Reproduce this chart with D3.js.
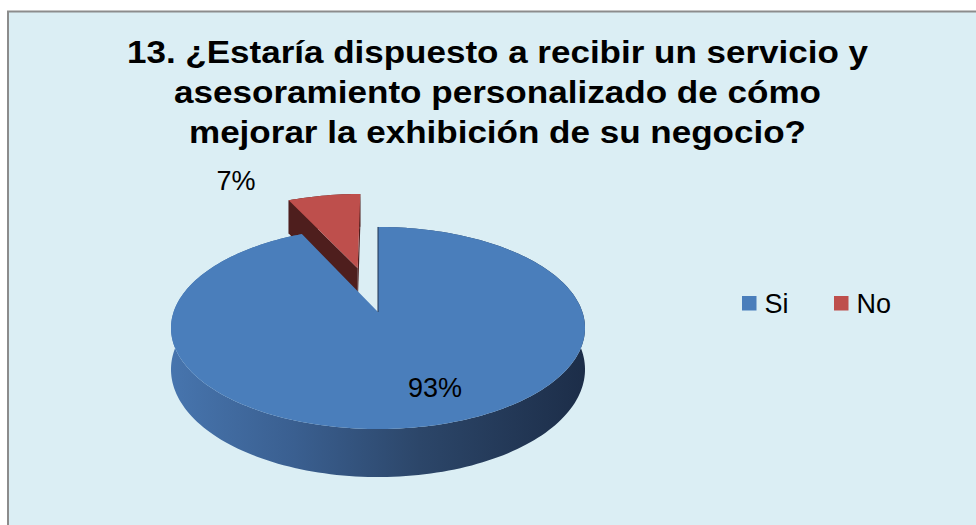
<!DOCTYPE html>
<html>
<head>
<meta charset="utf-8">
<script src="https://cdn.jsdelivr.net/npm/d3@7"></script>
<style>
  html, body { margin: 0; padding: 0; background: #ffffff; }
  svg { display: block; }
</style>
</head>
<body>
<svg id="chart" width="976" height="525"></svg>
<script>
// ---- data ----
const categories = ["Si", "No"];
const values = [93, 7];
const colors = ["#4A7EBB", "#BE4F4C"];
const titleLines = [
  "13. ¿Estaría dispuesto a recibir un servicio y",
  "asesoramiento personalizado de cómo",
  "mejorar la exhibición de su negocio?"
];
const explode = [0, 0.49];

// ---- layout ----
const svg = d3.select("#chart");
const W = 976, H = 525;
const FONT = "'Liberation Sans', Arial, sans-serif";

svg.append("rect").attr("x", 0).attr("y", 0).attr("width", W).attr("height", H).attr("fill", "#ffffff");
svg.append("rect").attr("x", 8).attr("y", 11.5).attr("width", 990).attr("height", 540)
  .attr("fill", "#DBEEF4").attr("stroke", "#8c8c8c").attr("stroke-width", 2);

// title
const titleWidths = [741, 647, 617];
const titleBase = [63, 103, 143];
svg.append("g").selectAll("text").data(titleLines).join("text")
  .attr("x", 497.5).attr("y", (d, i) => titleBase[i])
  .attr("text-anchor", "middle")
  .attr("font-family", FONT).attr("font-weight", "bold").attr("font-size", 32)
  .attr("textLength", (d, i) => titleWidths[i]).attr("lengthAdjust", "spacingAndGlyphs")
  .attr("fill", "#000").text(d => d);

// ---- 3D pie projection ----
const cx = 378, cy = 312, A = 204.4, B = 98.5, K = 0.1584, T = 40.4;
function proj(u, v, h) {
  const w = 1 - K * v;
  return [cx + A * u / w, cy + (B * v + h) / w];
}
function pt(theta, r, h, off) {
  return proj(r * Math.sin(theta) + off[0], -r * Math.cos(theta) + off[1], h);
}
const pie = d3.pie().sort(null).value(d => d)(values);
const line = d3.line();
const N = 240;
function arcPts(a0, a1, h, off) {
  const n = Math.max(4, Math.ceil(N * (a1 - a0) / (2 * Math.PI)));
  return d3.range(n + 1).map(i => pt(a0 + (a1 - a0) * i / n, 1, h, off));
}

const defs = svg.append("defs");
const grad = defs.append("linearGradient").attr("id", "sideBlue")
  .attr("gradientUnits", "userSpaceOnUse")
  .attr("x1", cx - A * 1.02).attr("x2", cx + A * 1.02).attr("y1", 0).attr("y2", 0);
[["0", "#4775AE"], ["0.3", "#3A5F90"], ["0.6", "#2C4669"], ["1", "#1C2D48"]]
  .forEach(s => grad.append("stop").attr("offset", s[0]).attr("stop-color", s[1]));

const gPie = svg.append("g");

function drawSlice(d, i) {
  const e = explode[i];
  const mid = (d.startAngle + d.endAngle) / 2;
  const off = [e * Math.sin(mid), -e * Math.cos(mid)];
  const a0 = d.startAngle, a1 = d.endAngle;
  const isSi = i === 0;
  const sideFill = isSi ? "url(#sideBlue)" : "#4E1E1D";
  // outer side
  const top = arcPts(a0, a1, 0, off);
  const bot = arcPts(a0, a1, T, off).reverse();
  gPie.append("path").attr("d", line(top.concat(bot)) + "Z").attr("fill", sideFill);
  if (!isSi) {
    // radial faces
    [a1, a0].forEach(a => {
      const c0 = proj(off[0], off[1], 0), c1 = proj(off[0], off[1], T);
      const r0 = pt(a, 1, 0, off), r1 = pt(a, 1, T, off);
      gPie.append("path").attr("d", line([c0, r0, r1, c1]) + "Z").attr("fill", "#4E1E1D");
    });
  }
  // top face
  const c = proj(off[0], off[1], 0);
  gPie.append("path").attr("d", line([c].concat(top)) + "Z").attr("fill", colors[i]);
  if (isSi) {
    // thin edge line at the gap (edge-on radial face)
    const r0 = pt(a0, 1, 0, off);
    gPie.append("path").attr("d", line([c, r0])).attr("stroke", "#1F3350").attr("stroke-width", 1).attr("fill", "none");
  }
}
// draw No first, then Si
drawSlice(pie[1], 1);
drawSlice(pie[0], 0);

// labels
const pct = d3.format(".0%");
const total = d3.sum(values);
const labelPos = [[435, 397], [236, 190]];
svg.append("g").selectAll("text").data(values).join("text")
  .attr("x", (d, i) => labelPos[i][0]).attr("y", (d, i) => labelPos[i][1])
  .attr("text-anchor", "middle").attr("font-family", FONT).attr("font-size", 27)
  .attr("fill", "#000").text(d => pct(d / total));

// legend
const legX = [742, 834];
const leg = svg.append("g").selectAll("g").data(categories).join("g")
  .attr("transform", (d, i) => `translate(${legX[i]},296)`);
leg.append("rect").attr("width", 14.5).attr("height", 14.5).attr("fill", (d, i) => colors[i]);
leg.append("text").attr("x", 22.5).attr("y", 16.5)
  .attr("font-family", FONT).attr("font-size", 27).attr("fill", "#000").text(d => d);
</script>
</body>
</html>
